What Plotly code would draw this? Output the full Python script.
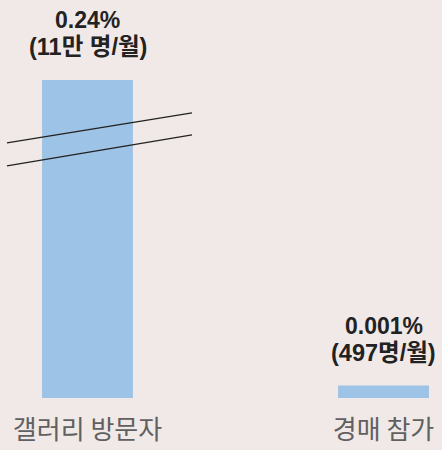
import math
import plotly.graph_objects as go

categories = ["갤러리 방문자", "경매 참가"]
shares = [0.24, 0.001]
share_labels = ["0.24%", "0.001%"]
count_labels = ["(11만 명/월)", "(497명/월)"]

BG = "#F1E9E7"
BAR = "#9DC3E6"
LABEL_FONT = "Liberation Sans, Arial, Noto Sans CJK KR"

fig = go.Figure(go.Bar(
    x=categories,
    y=shares,
    width=0.307,
    marker=dict(color=BAR, line=dict(width=0)),
    hoverinfo="skip",
))

# two-line value labels above each bar (log axis -> annotation y in log10 units)
for cat, val, top, bottom in zip(categories, shares, share_labels, count_labels):
    fig.add_annotation(x=cat, y=math.log10(val), yref="y", text=f"<b>{top}</b>", showarrow=False,
                       yanchor="bottom", yshift=45,
                       font=dict(family=LABEL_FONT, size=23, color="#222222"))
    fig.add_annotation(x=cat, y=math.log10(val), yref="y", text=f"<b>{bottom}</b>", showarrow=False,
                       yanchor="bottom", yshift=18,
                       font=dict(family=LABEL_FONT, size=23.5, color="#222222"))

# axis break marks across the tall bar
H = 398.5
for y0, y1 in [(143, 113), (166, 135)]:
    fig.add_shape(type="line", xref="paper", yref="paper",
                  x0=7 / 442, x1=192 / 442, y0=(H - y0) / H, y1=(H - y1) / H,
                  line=dict(color="#222222", width=1.2))

fig.update_layout(
    width=442, height=450,
    margin=dict(l=0, r=0, t=0, b=51.5),
    paper_bgcolor=BG, plot_bgcolor=BG,
    showlegend=False,
    xaxis=dict(range=[-0.2956, 1.1976], showline=False, showgrid=False, zeroline=False,
               ticks="", ticklabelstandoff=14,
               tickfont=dict(family="Noto Sans CJK KR", size=26, color="#606060")),
    yaxis=dict(type="log", range=[-3.0972, 0.0026], visible=False, showgrid=False),
)

fig.write_html("out.html", config={"displayModeBar": False},
               post_script="document.body.style.margin='0';")
